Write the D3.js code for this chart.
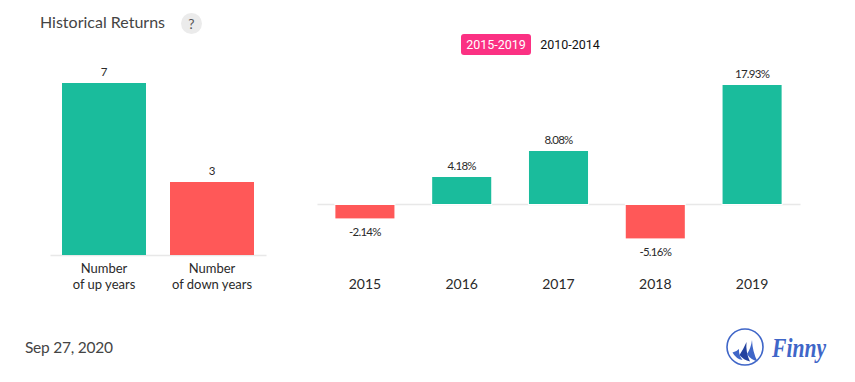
<!DOCTYPE html>
<html><head><meta charset="utf-8">
<script src="https://cdn.jsdelivr.net/npm/d3@7"></script>
<style>
html,body{margin:0;padding:0;background:#fff}
svg{display:block;font-family:Lato,sans-serif}
</style></head><body><svg id="c" width="855" height="382"></svg>
<script>
const countCategories = ["Number|of up years", "Number|of down years"];
const countValues = [7, 3];
const years = ["2015", "2016", "2017", "2018", "2019"];
const returnValues = [-2.14, 4.18, 8.08, -5.16, 17.93];
const returnLabels = ["-2.14%", "4.18%", "8.08%", "-5.16%", "17.93%"];
const ranges = ["2015-2019", "2010-2014"];
const UP = "#1abc9c", DOWN = "#ff5858", AXIS = "#e8e8e8", TEXT = "#2a2a2a";

const svg = d3.select("#c");

svg.append("text").attr("x",40).attr("y",28).attr("font-size",16).attr("fill","#444").text("Historical Returns");
svg.append("circle").attr("cx",191.5).attr("cy",23.5).attr("r",10.5).attr("fill","#ebebeb");
svg.append("text").attr("x",191.5).attr("y",29).attr("font-size",14).attr("fill","#555").attr("text-anchor","middle").text("?");

// toggle
svg.append("rect").attr("x",461).attr("y",34).attr("width",70).attr("height",21).attr("rx",3).attr("fill","#fb3183");
svg.append("text").attr("x",496).attr("y",49).attr("font-size",12.5).attr("fill","#fff").attr("text-anchor","middle").attr("font-family","Roboto").text(ranges[0]);
svg.append("text").attr("x",570).attr("y",49).attr("font-size",12.5).attr("fill","#111").attr("text-anchor","middle").attr("font-family","Roboto").text(ranges[1]);

// left chart
const xL = d3.scaleBand().domain(countCategories).range([50,266]).paddingInner(24/108).paddingOuter(12/108);
const yL = d3.scaleLinear().domain([0,7]).range([255,83]);
const axL = svg.append("g").attr("transform","translate(0,255)").call(d3.axisBottom(xL).tickSize(0).tickFormat(""));
axL.select(".domain").attr("stroke",AXIS).attr("stroke-width",1.5);
const hL = d => Math.floor(yL(0)-yL(d));
svg.selectAll(".barL").data(countValues).join("rect").attr("class","barL")
  .attr("x",(d,i)=>xL(countCategories[i])).attr("width",xL.bandwidth())
  .attr("y",d=>yL(0)-hL(d)).attr("height",hL)
  .attr("fill",(d,i)=>i===0?UP:DOWN);
svg.selectAll(".valL").data(countValues).join("text").attr("class","valL")
  .attr("x",(d,i)=>xL(countCategories[i])+xL.bandwidth()/2).attr("y",d=>yL(0)-hL(d)-7)
  .attr("text-anchor","middle").attr("font-size",11.5).attr("fill",TEXT).text(d=>d);
countCategories.forEach(c=>{
  const t = svg.append("text").attr("text-anchor","middle").attr("font-size",13).attr("fill",TEXT);
  c.split("|").forEach((s,i)=>t.append("tspan").attr("x",xL(c)+xL.bandwidth()/2).attr("y",273+i*16).text(s));
});

// right chart
const xR = d3.scaleBand().domain(years).range([317,800]).paddingInner(0.39).paddingOuter(0.19);
const yR = d3.scaleLinear().domain([0,17.93]).range([204,85]);
const axR = svg.append("g").attr("transform","translate(0,204)").call(d3.axisBottom(xR).tickSize(0).tickFormat(""));
axR.select(".domain").attr("stroke",AXIS).attr("stroke-width",1.5);
const hR = d => Math.floor(Math.abs(yR(0)-yR(d)));
svg.selectAll(".gap").data(years).join("rect").attr("class","gap")
  .attr("x",d=>xR(d)-1).attr("width",xR.bandwidth()+2).attr("y",203).attr("height",2)
  .attr("fill","#fff");
svg.selectAll(".barR").data(returnValues).join("rect").attr("class","barR")
  .attr("x",(d,i)=>xR(years[i])).attr("width",xR.bandwidth())
  .attr("y",d=>d>=0?204-hR(d):205).attr("height",d=>d>=0?hR(d):hR(d)-0.6)
  .attr("fill",d=>d>=0?UP:DOWN);
svg.selectAll(".valR").data(returnValues).join("text").attr("class","valR")
  .attr("x",(d,i)=>xR(years[i])+xR.bandwidth()/2)
  .attr("y",d=>d>=0?204-hR(d)-7:204+hR(d)+17.5)
  .attr("text-anchor","middle").attr("font-size",11.5).attr("letter-spacing",-0.75).attr("fill",TEXT).text((d,i)=>returnLabels[i]);
svg.selectAll(".yr").data(years).join("text").attr("class","yr")
  .attr("x",d=>xR(d)+xR.bandwidth()/2).attr("y",289)
  .attr("text-anchor","middle").attr("font-size",14).attr("fill",TEXT).text(d=>d);

// footer
svg.append("text").attr("x",25).attr("y",353).attr("font-size",15.5).attr("letter-spacing",-0.25).attr("fill","#444").text("Sep 27, 2020");

// logo
const logo = svg.append("g");
logo.append("circle").attr("cx",745).attr("cy",347).attr("r",18).attr("fill","none").attr("stroke","#3f66c8").attr("stroke-width",1.6);
logo.append("path").attr("d","M739 349 Q738.5 355 742.5 360 Q736 359 732.5 352.5 Q736 352 739 349Z").attr("fill","#3f66c8");
logo.append("path").attr("d","M746.5 342 Q745.5 352 750 361.5 Q743.5 360 739.5 355 Q743.5 349 746.5 342Z").attr("fill","#24429f");
logo.append("path").attr("d","M752 340 Q752.5 352 757.5 361.5 Q750.5 359.5 747 354 Q751 348 752 340Z").attr("fill","#3f66c8");
logo.append("text").attr("transform","translate(772,357) scale(0.8,1)").attr("font-size",27).attr("font-weight",700).attr("font-style","italic")
  .attr("fill","#3f66c8").attr("font-family","'Liberation Serif',serif").text("Finny");
</script></body></html>
